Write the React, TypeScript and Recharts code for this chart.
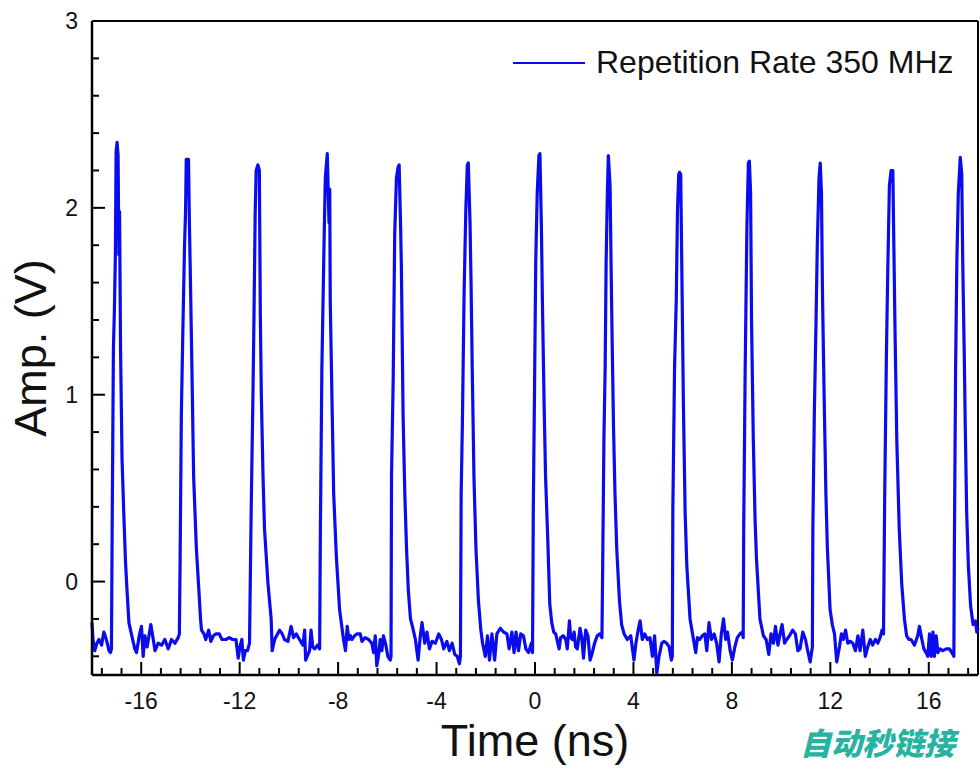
import React from 'react';
import { LineChart, Line, XAxis, YAxis, ReferenceLine } from 'recharts';

// [time (ns), amplitude (V)], one list per pulse period
const leadIn: [number, number][] = [
  [-18.0, -0.22], [-17.96, -0.31], [-17.89, -0.37], [-17.8, -0.33], [-17.72, -0.31], [-17.61, -0.34],
  [-17.52, -0.27], [-17.44, -0.3], [-17.38, -0.33], [-17.31, -0.37], [-17.25, -0.38],
];
const period01: [number, number][] = [
  [-17.21, -0.36], [-17.18, 0.3], [-17.13, 1.25], [-17.09, 1.45], [-17.05, 1.75], [-17.02, 2.3], [-16.98, 2.35],
  [-16.94, 2.28], [-16.91, 1.75], [-16.88, 1.98], [-16.84, 1.25], [-16.78, 0.66], [-16.71, 0.37], [-16.64, 0.11],
  [-16.58, -0.04], [-16.5, -0.22],
  [-16.4, -0.28], [-16.26, -0.36], [-16.19, -0.38], [-16.08, -0.29], [-15.99, -0.24], [-15.92, -0.4],
  [-15.85, -0.29], [-15.76, -0.35], [-15.61, -0.23], [-15.51, -0.31], [-15.44, -0.37], [-15.31, -0.33],
  [-15.17, -0.34], [-15.04, -0.31], [-14.9, -0.36], [-14.77, -0.31], [-14.63, -0.33], [-14.5, -0.3], [-14.45, -0.28],
];
const period02: [number, number][] = [
  [-14.42, 0.11], [-14.37, 0.89], [-14.31, 1.33], [-14.24, 1.8], [-14.2, 1.97], [-14.17, 2.26], [-14.08, 2.26],
  [-14.04, 1.9], [-14.0, 1.61], [-13.94, 1.14], [-13.87, 0.56], [-13.76, 0.18], [-13.66, -0.04], [-13.59, -0.2],
  [-13.55, -0.26], [-13.45, -0.28], [-13.38, -0.31], [-13.26, -0.26], [-13.17, -0.32], [-13.07, -0.29],
  [-12.96, -0.28], [-12.83, -0.28], [-12.72, -0.31], [-12.56, -0.31], [-12.42, -0.3], [-12.29, -0.31],
  [-12.15, -0.31], [-12.06, -0.41], [-11.99, -0.35], [-11.91, -0.31], [-11.85, -0.42], [-11.77, -0.37],
  [-11.68, -0.37], [-11.6, -0.33],
];
const period03: [number, number][] = [
  [-11.53, 0.4], [-11.46, 1.0], [-11.42, 1.4], [-11.37, 1.97], [-11.33, 2.2], [-11.26, 2.23], [-11.2, 2.2],
  [-11.16, 1.42], [-11.12, 1.0], [-11.05, 0.56], [-10.99, 0.28], [-10.85, -0.01], [-10.72, -0.2],
  [-10.68, -0.37], [-10.58, -0.31], [-10.38, -0.26], [-10.27, -0.28], [-10.18, -0.31], [-10.04, -0.32],
  [-9.91, -0.24], [-9.81, -0.3], [-9.7, -0.28], [-9.57, -0.31], [-9.43, -0.34], [-9.36, -0.26], [-9.32, -0.42],
  [-9.16, -0.37], [-9.1, -0.26], [-9.03, -0.35], [-8.95, -0.36], [-8.84, -0.34], [-8.75, -0.36],
];
const period04: [number, number][] = [
  [-8.72, 0.28], [-8.66, 1.14], [-8.57, 1.82], [-8.52, 2.16], [-8.44, 2.29], [-8.37, 1.92], [-8.34, 2.1],
  [-8.32, 1.51], [-8.25, 0.98], [-8.18, 0.47], [-8.07, 0.13], [-7.94, -0.15], [-7.85, -0.24],
  [-7.78, -0.31], [-7.7, -0.37], [-7.63, -0.24], [-7.56, -0.31], [-7.5, -0.29], [-7.44, -0.31], [-7.33, -0.29],
  [-7.23, -0.28], [-7.1, -0.28], [-7.03, -0.32], [-6.9, -0.3], [-6.76, -0.31], [-6.63, -0.33], [-6.56, -0.38],
  [-6.49, -0.29], [-6.43, -0.45], [-6.36, -0.4], [-6.29, -0.31], [-6.22, -0.37], [-6.16, -0.29], [-6.06, -0.34],
  [-5.98, -0.4], [-5.88, -0.42], [-5.85, -0.4],
];
const period05: [number, number][] = [
  [-5.83, 0.56], [-5.76, 1.1], [-5.7, 1.86], [-5.63, 2.16], [-5.56, 2.22], [-5.52, 2.23], [-5.46, 1.9],
  [-5.43, 1.69], [-5.36, 0.89], [-5.29, 0.47], [-5.22, 0.18], [-5.15, -0.04], [-5.06, -0.2],
  [-4.98, -0.24], [-4.86, -0.31], [-4.75, -0.42], [-4.66, -0.29], [-4.59, -0.22], [-4.48, -0.33], [-4.39, -0.27],
  [-4.29, -0.36], [-4.18, -0.32], [-4.05, -0.33], [-3.91, -0.28], [-3.8, -0.31], [-3.71, -0.36], [-3.58, -0.32],
  [-3.48, -0.37], [-3.37, -0.33], [-3.26, -0.39], [-3.16, -0.4], [-3.07, -0.44], [-3.03, -0.4],
];
const period06: [number, number][] = [
  [-3.0, 0.47], [-2.95, 0.85], [-2.88, 1.55], [-2.81, 1.99], [-2.75, 2.23], [-2.71, 2.24], [-2.64, 1.92],
  [-2.6, 1.61], [-2.55, 1.14], [-2.48, 0.56], [-2.4, 0.18], [-2.3, -0.1], [-2.2, -0.26],
  [-2.13, -0.33], [-2.02, -0.4], [-1.93, -0.29], [-1.85, -0.42], [-1.75, -0.28], [-1.64, -0.42], [-1.55, -0.28],
  [-1.41, -0.25], [-1.28, -0.27], [-1.14, -0.28], [-1.05, -0.36], [-0.94, -0.27], [-0.85, -0.38], [-0.77, -0.27],
  [-0.67, -0.37], [-0.58, -0.28], [-0.47, -0.29], [-0.37, -0.36], [-0.26, -0.38], [-0.15, -0.33], [-0.1, -0.38],
];
const period07: [number, number][] = [
  [-0.07, 0.37], [-0.02, 1.02], [0.03, 1.71], [0.09, 2.08], [0.16, 2.28], [0.2, 2.29], [0.26, 1.9], [0.3, 1.51],
  [0.37, 0.95], [0.43, 0.56], [0.52, 0.22], [0.6, -0.12], [0.68, -0.22],
  [0.76, -0.27], [0.84, -0.28], [0.98, -0.36], [1.04, -0.3], [1.15, -0.29], [1.25, -0.31], [1.31, -0.36],
  [1.4, -0.21], [1.45, -0.3], [1.52, -0.31], [1.59, -0.27], [1.65, -0.35], [1.72, -0.36], [1.83, -0.25],
  [1.9, -0.3], [1.97, -0.41], [2.06, -0.26], [2.15, -0.29], [2.24, -0.42], [2.33, -0.38], [2.42, -0.33],
  [2.53, -0.29], [2.63, -0.28], [2.72, -0.3],
];
const period08: [number, number][] = [
  [2.75, 0.08], [2.8, 0.76], [2.85, 1.14], [2.89, 1.71], [2.94, 2.08], [2.98, 2.28], [3.05, 2.12], [3.09, 1.71],
  [3.13, 1.33], [3.19, 0.83], [3.25, 0.47], [3.32, 0.18], [3.43, -0.1], [3.52, -0.23],
  [3.62, -0.28], [3.75, -0.31], [3.89, -0.29], [4.02, -0.42], [4.1, -0.33], [4.19, -0.26], [4.27, -0.21],
  [4.36, -0.31], [4.46, -0.28], [4.57, -0.31], [4.67, -0.3], [4.77, -0.4], [4.86, -0.29], [4.95, -0.49],
  [5.04, -0.4], [5.15, -0.33], [5.24, -0.32], [5.35, -0.33], [5.45, -0.35], [5.54, -0.42], [5.58, -0.4],
];
const period09: [number, number][] = [
  [5.6, 0.37], [5.67, 1.14], [5.74, 1.51], [5.79, 1.99], [5.84, 2.18], [5.87, 2.19], [5.92, 2.18], [5.96, 1.74],
  [6.03, 0.95], [6.1, 0.37], [6.17, 0.08], [6.3, -0.2],
  [6.44, -0.31], [6.53, -0.38], [6.6, -0.3], [6.69, -0.31], [6.8, -0.29], [6.9, -0.28], [6.98, -0.37],
  [7.07, -0.22], [7.17, -0.31], [7.28, -0.28], [7.38, -0.33], [7.48, -0.43], [7.57, -0.28], [7.66, -0.2],
  [7.75, -0.31], [7.82, -0.27], [7.93, -0.37], [8.02, -0.42], [8.12, -0.35], [8.22, -0.3], [8.33, -0.28],
  [8.43, -0.27], [8.46, -0.3],
];
const period10: [number, number][] = [
  [8.48, 0.28], [8.54, 1.14], [8.61, 1.9], [8.67, 2.24], [8.71, 2.25], [8.76, 2.08], [8.8, 1.38], [8.87, 0.76],
  [8.94, 0.34], [9.0, 0.12], [9.14, -0.2], [9.28, -0.29],
  [9.39, -0.31], [9.5, -0.39], [9.59, -0.28], [9.69, -0.33], [9.77, -0.24], [9.87, -0.34], [9.96, -0.28],
  [10.04, -0.23], [10.14, -0.33], [10.23, -0.31], [10.34, -0.29], [10.47, -0.26], [10.58, -0.28],
  [10.68, -0.37], [10.77, -0.36], [10.88, -0.27], [10.99, -0.31], [11.08, -0.37], [11.18, -0.43], [11.27, -0.35],
];
const period11: [number, number][] = [
  [11.29, 0.28], [11.35, 0.9], [11.42, 1.4], [11.47, 1.8], [11.54, 2.16], [11.59, 2.24], [11.64, 2.08],
  [11.68, 1.55], [11.75, 0.98], [11.82, 0.47], [11.88, 0.18], [11.99, -0.15], [12.08, -0.23],
  [12.17, -0.28], [12.26, -0.43], [12.37, -0.35], [12.45, -0.28], [12.53, -0.31], [12.62, -0.26],
  [12.71, -0.33], [12.81, -0.32], [12.91, -0.33], [13.02, -0.37], [13.12, -0.29], [13.21, -0.37],
  [13.32, -0.26], [13.42, -0.4], [13.52, -0.35], [13.62, -0.31], [13.72, -0.34], [13.83, -0.31],
  [13.93, -0.33], [14.02, -0.3], [14.1, -0.26], [14.16, -0.28],
];
const period12: [number, number][] = [
  [14.21, 0.47], [14.28, 1.23], [14.34, 1.71], [14.4, 2.12], [14.47, 2.2], [14.54, 2.2], [14.57, 1.9],
  [14.63, 1.33], [14.7, 0.76], [14.8, 0.28], [14.9, -0.01], [15.01, -0.2],
  [15.1, -0.29], [15.2, -0.31], [15.28, -0.31], [15.42, -0.34], [15.55, -0.29], [15.62, -0.24], [15.72, -0.31],
  [15.8, -0.36], [15.89, -0.38], [15.96, -0.4], [16.03, -0.28], [16.1, -0.4], [16.17, -0.27], [16.23, -0.4],
  [16.3, -0.29], [16.37, -0.38], [16.46, -0.36], [16.57, -0.37], [16.71, -0.36], [16.84, -0.36],
  [16.98, -0.39], [17.02, -0.4],
];
const period13: [number, number][] = [
  [17.04, 0.18], [17.09, 1.14], [17.14, 1.71], [17.2, 2.08], [17.28, 2.27], [17.34, 2.18], [17.38, 1.71],
  [17.44, 1.23], [17.48, 0.85], [17.54, 0.37], [17.61, 0.08], [17.7, -0.13], [17.8, -0.23], [17.9, -0.21],
  [17.95, -0.27], [18.0, -0.25],
];

const xTicks = [
  -17.6, -16.8, -16, -15.2, -14.4, -13.6, -12.8, -12, -11.2, -10.4, -9.6, -8.8, -8, -7.2, -6.4, -5.6, -4.8, -4,
  -3.2, -2.4, -1.6, -0.8, 0, 0.8, 1.6, 2.4, 3.2, 4, 4.8, 5.6, 6.4, 7.2, 8, 8.8, 9.6, 10.4, 11.2, 12, 12.8, 13.6,
  14.4, 15.2, 16, 16.8, 17.6,
];
const xLabels = [-16, -12, -8, -4, 0, 4, 8, 12, 16];
const yTicks = [-0.4, -0.2, 0, 0.2, 0.4, 0.6, 0.8, 1, 1.2, 1.4, 1.6, 1.8, 2, 2.2, 2.4, 2.6, 2.8, 3];
const yLabels = [0, 1, 2, 3];

const data = [
  ...leadIn, ...period01, ...period02, ...period03, ...period04, ...period05, ...period06,
  ...period07, ...period08, ...period09, ...period10, ...period11, ...period12, ...period13,
].map(([t, v]) => ({ t, v }));

const BLUE = '#0b0bf0';
const FONT = "'Liberation Sans', Arial, sans-serif";

function XTick(props: any) {
  const { x, y, payload } = props;
  const major = xLabels.includes(payload.value);
  return (
    <g>
      <line x1={x} x2={x} y1={y} y2={y - (major ? 13 : 7)} stroke="#000" strokeWidth={2} />
      {major && (
        <text x={x} y={y + 34} textAnchor="middle" fontSize={23} fontFamily={FONT} fill="#111">
          {payload.value}
        </text>
      )}
    </g>
  );
}

function YTick(props: any) {
  const { x, y, payload } = props;
  const major = yLabels.includes(payload.value);
  return (
    <g>
      <line x1={x} x2={x + (major ? 13 : 7)} y1={y} y2={y} stroke="#000" strokeWidth={2} />
      {major && (
        <text x={x - 14} y={y} dy="0.36em" textAnchor="end" fontSize={23} fontFamily={FONT} fill="#111">
          {payload.value}
        </text>
      )}
    </g>
  );
}

export default function App() {
  return (
    <div style={{ position: 'absolute', left: 0, top: 0, width: 980, height: 768, background: '#fff' }}>
      <LineChart width={980} height={768} data={data} margin={{ top: 21, right: 2, bottom: 0, left: 0 }}>
        <XAxis
          dataKey="t"
          type="number"
          domain={[-18, 18]}
          ticks={xTicks}
          interval={0}
          height={93}
          tickSize={0}
          tickMargin={0}
          tickLine={false}
          tick={(p: any) => <XTick {...p} />}
          axisLine={{ stroke: '#000', strokeWidth: 2.5 }}
          label={{
            value: 'Time (ns)',
            position: 'insideBottom',
            offset: 12,
            style: { fontSize: 45, fontFamily: FONT, fill: '#111' },
          }}
        />
        <YAxis
          type="number"
          domain={[-0.5, 3]}
          ticks={yTicks}
          interval={0}
          width={92}
          tickSize={0}
          tickMargin={0}
          tickLine={false}
          tick={(p: any) => <YTick {...p} />}
          axisLine={{ stroke: '#000', strokeWidth: 2.5 }}
          label={{
            value: 'Amp. (V)',
            angle: -90,
            position: 'insideLeft',
            offset: 30,
            style: { fontSize: 45, fontFamily: FONT, fill: '#111', textAnchor: 'middle' },
          }}
        />
        <ReferenceLine y={3} stroke="#000" strokeWidth={2} />
        <ReferenceLine x={18} stroke="#000" strokeWidth={2} />
        <Line
          type="linear"
          dataKey="v"
          stroke={BLUE}
          strokeWidth={3.2}
          strokeLinejoin="round"
          dot={false}
          activeDot={false}
          isAnimationActive={false}
        />
      </LineChart>

      {/* legend */}
      <div style={{ position: 'absolute', left: 513, top: 44, display: 'flex', alignItems: 'center', height: 37 }}>
        <div style={{ width: 72, borderTop: `2.5px solid ${BLUE}` }} />
        <span style={{ marginLeft: 11, fontSize: 32, lineHeight: '37px', fontFamily: FONT, color: '#111' }}>
          Repetition Rate 350 MHz
        </span>
      </div>

      {/* watermark */}
      <div
        style={{
          position: 'absolute',
          left: 800,
          top: 724,
          fontSize: 31,
          lineHeight: '36px',
          fontWeight: 900,
          fontStyle: 'italic',
          fontFamily: "'Noto Sans CJK SC', sans-serif",
          color: '#27b3a1',
        }}
      >
        自动秒链接
      </div>
    </div>
  );
}
